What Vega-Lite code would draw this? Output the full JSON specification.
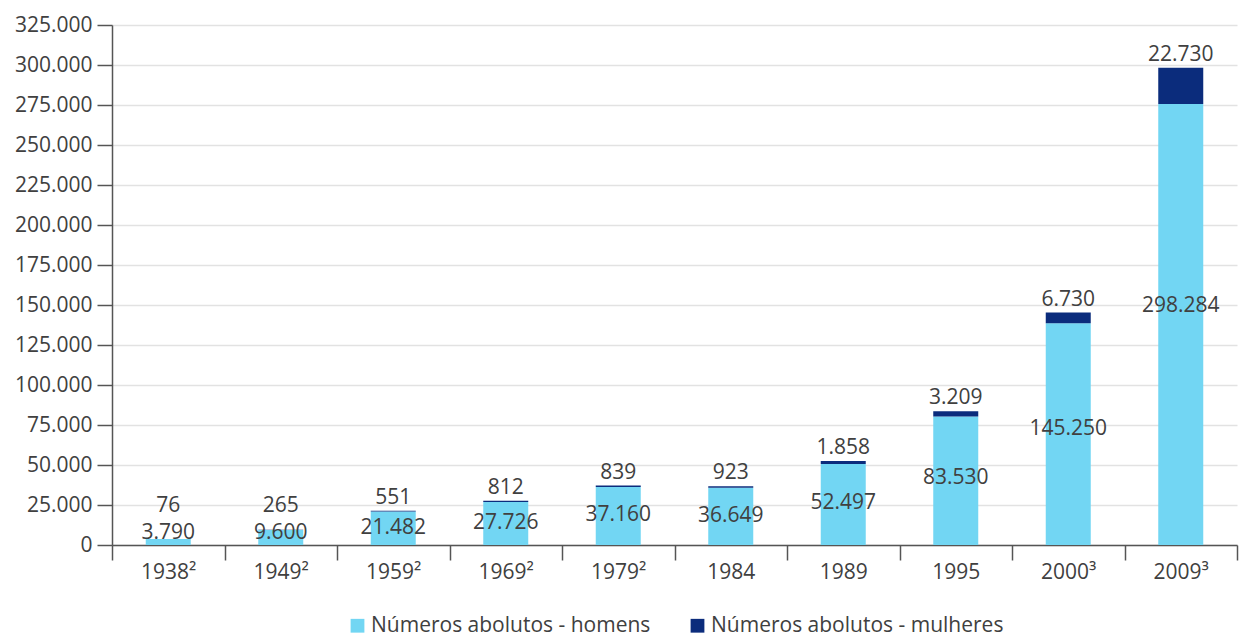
{
  "$schema": "https://vega.github.io/schema/vega-lite/v6.json",
  "autosize": "none",
  "width": 1125,
  "height": 520,
  "padding": {"left": 112, "top": 25, "right": 6, "bottom": 94},
  "background": "white",
  "config": {
    "font": "Open Sans",
    "locale": {"number": {"decimal": ",", "thousands": ".", "grouping": [3], "currency": ["R$", ""]}},
    "view": {"stroke": null},
    "axis": {"labelFont": "Open Sans", "labelColor": "#404040", "labelFontSize": 21, "domainColor": "#555555", "tickColor": "#555555", "tickSize": 15, "labelPadding": 5, "domainWidth": 1.5, "tickWidth": 1.5},
    "legend": {"labelFont": "Open Sans", "labelFontSize": 21, "labelColor": "#404040"}
  },
  "data": {"values": [
    {"ano": "1938²", "serie": "Números abolutos - homens", "valor": 3714, "total": 3790},
    {"ano": "1938²", "serie": "Números abolutos - mulheres", "valor": 76, "total": 3790},
    {"ano": "1949²", "serie": "Números abolutos - homens", "valor": 9335, "total": 9600},
    {"ano": "1949²", "serie": "Números abolutos - mulheres", "valor": 265, "total": 9600},
    {"ano": "1959²", "serie": "Números abolutos - homens", "valor": 20931, "total": 21482},
    {"ano": "1959²", "serie": "Números abolutos - mulheres", "valor": 551, "total": 21482},
    {"ano": "1969²", "serie": "Números abolutos - homens", "valor": 26914, "total": 27726},
    {"ano": "1969²", "serie": "Números abolutos - mulheres", "valor": 812, "total": 27726},
    {"ano": "1979²", "serie": "Números abolutos - homens", "valor": 36321, "total": 37160},
    {"ano": "1979²", "serie": "Números abolutos - mulheres", "valor": 839, "total": 37160},
    {"ano": "1984", "serie": "Números abolutos - homens", "valor": 35726, "total": 36649},
    {"ano": "1984", "serie": "Números abolutos - mulheres", "valor": 923, "total": 36649},
    {"ano": "1989", "serie": "Números abolutos - homens", "valor": 50639, "total": 52497},
    {"ano": "1989", "serie": "Números abolutos - mulheres", "valor": 1858, "total": 52497},
    {"ano": "1995", "serie": "Números abolutos - homens", "valor": 80321, "total": 83530},
    {"ano": "1995", "serie": "Números abolutos - mulheres", "valor": 3209, "total": 83530},
    {"ano": "2000³", "serie": "Números abolutos - homens", "valor": 138520, "total": 145250},
    {"ano": "2000³", "serie": "Números abolutos - mulheres", "valor": 6730, "total": 145250},
    {"ano": "2009³", "serie": "Números abolutos - homens", "valor": 275554, "total": 298284},
    {"ano": "2009³", "serie": "Números abolutos - mulheres", "valor": 22730, "total": 298284}
  ]},
  "encoding": {
    "x": {"field": "ano", "type": "nominal", "sort": null,
      "scale": {"paddingInner": 0, "paddingOuter": 0},
      "axis": {"title": null, "labelAngle": 0, "tickBand": "extent", "labelPadding": 1}}
  },
  "layer": [
    {
      "mark": {"type": "bar", "width": {"band": 0.4}},
      "encoding": {
        "y": {"field": "valor", "type": "quantitative", "aggregate": "sum", "stack": "zero",
          "scale": {"domain": [0, 325000], "nice": false},
          "axis": {"title": null, "values": [0,25000,50000,75000,100000,125000,150000,175000,200000,225000,250000,275000,300000,325000], "format": ",d", "grid": true, "gridColor": "#e2e2e2", "gridWidth": 1.5}},
        "color": {"field": "serie", "type": "nominal",
          "scale": {"domain": ["Números abolutos - homens", "Números abolutos - mulheres"], "range": ["#72d6f3", "#0b2c7c"]},
          "legend": {"title": null, "orient": "none", "legendX": 235, "legendY": 590, "direction": "horizontal", "symbolType": "square", "symbolSize": 190, "symbolStrokeWidth": 0, "labelOffset": 3, "columnPadding": 36, "labelLimit": 400}},
        "order": {"field": "serie", "type": "nominal", "sort": "ascending"}
      }
    },
    {
      "transform": [{"filter": "datum.serie == 'Números abolutos - mulheres'"}],
      "mark": {"type": "text", "baseline": "bottom", "dy": -3, "fontSize": 21, "color": "#404040", "font": "Open Sans"},
      "encoding": {
        "y": {"field": "total", "type": "quantitative", "scale": {"domain": [16000, 325000], "range": [494.4, 0], "clamp": true, "nice": false, "zero": false}, "axis": null},
        "text": {"field": "valor", "type": "quantitative", "format": ",d"}
      }
    },
    {
      "transform": [{"filter": "datum.serie == 'Números abolutos - homens'"}],
      "mark": {"type": "text", "baseline": "middle", "fontSize": 21, "color": "#404040", "font": "Open Sans"},
      "encoding": {
        "y": {"field": "total", "type": "quantitative", "scale": {"domain": [15000, 650000], "range": [508, 0], "clamp": true, "nice": false, "zero": false}, "axis": null},
        "text": {"field": "total", "type": "quantitative", "format": ",d"}
      }
    }
  ],
  "resolve": {"scale": {"y": "independent"}}
}
